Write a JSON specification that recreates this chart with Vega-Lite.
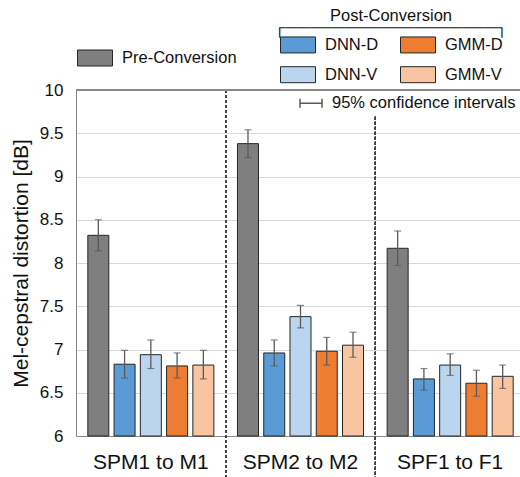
{
  "$schema": "https://vega.github.io/schema/vega-lite/v6.json",
  "width": 444,
  "height": 346,
  "autosize": {"type": "none"},
  "padding": {"left": 76, "top": 90, "right": 0, "bottom": 41},
  "config": {
    "view": {"stroke": null},
    "font": "Liberation Sans",
    "legend": {"padding": 0, "labelFont": "Liberation Sans", "titleFont": "Liberation Sans", "labelLimit": 400, "titleLimit": 600}
  },
  "data": {
    "values": [
      {"group": "SPM1 to M1", "series": "Pre-Conversion", "value": 8.32, "lo": 8.14, "hi": 8.50},
      {"group": "SPM1 to M1", "series": "DNN-D", "value": 6.83, "lo": 6.67, "hi": 6.99},
      {"group": "SPM1 to M1", "series": "DNN-V", "value": 6.94, "lo": 6.78, "hi": 7.11},
      {"group": "SPM1 to M1", "series": "GMM-D", "value": 6.81, "lo": 6.67, "hi": 6.96},
      {"group": "SPM1 to M1", "series": "GMM-V", "value": 6.82, "lo": 6.66, "hi": 6.99},
      {"group": "SPM2 to M2", "series": "Pre-Conversion", "value": 9.38, "lo": 9.22, "hi": 9.54},
      {"group": "SPM2 to M2", "series": "DNN-D", "value": 6.96, "lo": 6.81, "hi": 7.11},
      {"group": "SPM2 to M2", "series": "DNN-V", "value": 7.38, "lo": 7.25, "hi": 7.51},
      {"group": "SPM2 to M2", "series": "GMM-D", "value": 6.98, "lo": 6.82, "hi": 7.14},
      {"group": "SPM2 to M2", "series": "GMM-V", "value": 7.05, "lo": 6.91, "hi": 7.20},
      {"group": "SPF1 to F1", "series": "Pre-Conversion", "value": 8.17, "lo": 7.97, "hi": 8.37},
      {"group": "SPF1 to F1", "series": "DNN-D", "value": 6.66, "lo": 6.53, "hi": 6.78},
      {"group": "SPF1 to F1", "series": "DNN-V", "value": 6.82, "lo": 6.70, "hi": 6.95},
      {"group": "SPF1 to F1", "series": "GMM-D", "value": 6.61, "lo": 6.46, "hi": 6.76},
      {"group": "SPF1 to F1", "series": "GMM-V", "value": 6.69, "lo": 6.55, "hi": 6.82}
    ]
  },
  "resolve": {"scale": {"fill": "independent"}, "legend": {"fill": "independent"}},
  "layer": [
    {
      "transform": [{"filter": "datum.series === 'Pre-Conversion'"}],
      "mark": {"type": "bar", "stroke": "#262626", "strokeWidth": 1},
      "encoding": {
        "x": {
          "field": "group", "type": "nominal",
          "scale": {"domain": ["SPM1 to M1", "SPM2 to M2", "SPF1 to F1"], "range": [0, 449], "paddingInner": 0, "paddingOuter": 0},
          "axis": {"title": null, "domain": true, "domainColor": "#898989", "domainWidth": 1, "ticks": false, "labelAngle": 0, "labelFontSize": 21, "labelPadding": 15, "labelColor": "#111111", "grid": false}
        },
        "xOffset": {
          "field": "series", "type": "nominal",
          "scale": {"domain": ["Pre-Conversion", "DNN-D", "DNN-V", "GMM-D", "GMM-V"], "paddingInner": 0.2, "paddingOuter": 0.45}
        },
        "y": {
          "field": "value", "type": "quantitative",
          "scale": {"domain": [6, 10], "zero": false, "nice": false},
          "axis": {"title": "Mel-cepstral distortion [dB]", "values": [6, 6.5, 7, 7.5, 8, 8.5, 9, 9.5, 10], "format": "~g", "grid": true, "gridColor": "#d9d9d9", "gridWidth": 1, "domain": true, "domainColor": "#898989", "ticks": false, "labelPadding": 13, "labelFontSize": 17, "labelColor": "#111111", "titleFontSize": 21, "titleFontWeight": "normal", "titleColor": "#111111", "titlePadding": 8}
        },
        "y2": {"datum": 6},
        "fill": {
          "field": "series", "type": "nominal",
          "scale": {"domain": ["Pre-Conversion"], "range": ["#7f7f7f"]},
          "legend": {"title": null, "orient": "none", "legendX": 1, "legendY": -40.5, "symbolType": "M-1,-1H3.375V1H-1Z", "symbolSize": 256, "symbolStrokeColor": "#262626", "symbolStrokeWidth": 1, "labelOffset": 28, "labelFontSize": 16.5, "labelColor": "#111111"}
        }
      }
    },
    {
      "transform": [{"filter": "datum.series !== 'Pre-Conversion'"}],
      "mark": {"type": "bar", "stroke": "#262626", "strokeWidth": 1},
      "encoding": {
        "x": {"field": "group", "type": "nominal"},
        "xOffset": {"field": "series", "type": "nominal"},
        "y": {"field": "value", "type": "quantitative"},
        "y2": {"datum": 6},
        "fill": {
          "field": "series", "type": "nominal",
          "sort": ["DNN-D", "DNN-V", "GMM-D", "GMM-V"],
          "scale": {"domain": ["DNN-D", "DNN-V", "GMM-D", "GMM-V"], "range": ["#5b9bd5", "#bcd5ee", "#ed7d31", "#f8c5a0"]},
          "legend": {"title": ["Post-Conversion", "┌──────────────────┐"], "orient": "none", "legendX": 198, "legendY": -82.3, "columns": 2, "columnPadding": 19, "rowPadding": 9, "titleAnchor": "middle", "titleAlign": "center", "titleFontSize": 16.5, "titleFontWeight": "normal", "titleColor": "#111111", "titleLineHeight": 12, "titlePadding": 0, "symbolType": "M-1,-1H3.375V1H-1Z", "symbolSize": 256, "symbolStrokeColor": "#262626", "symbolStrokeWidth": 1, "labelOffset": 28, "labelFontSize": 16.5, "labelColor": "#111111"}
        }
      }
    },
    {
      "mark": {"type": "rule", "strokeWidth": 1.3},
      "encoding": {
        "x": {"field": "group", "type": "nominal"},
        "xOffset": {"field": "series", "type": "nominal"},
        "y": {"field": "lo", "type": "quantitative"},
        "y2": {"field": "hi"},
        "stroke": {
          "datum": "95% confidence intervals", "type": "nominal",
          "scale": {"range": ["#595959"]},
          "legend": {"title": null, "orient": "none", "legendX": 223, "legendY": 1.25, "symbolType": "M-1,0H1M-1,-0.4V0.4M1,-0.4V0.4", "symbolSize": 484, "symbolStrokeWidth": 1.5, "symbolFillColor": "transparent", "labelOffset": 9, "labelFontSize": 16.5, "labelColor": "#111111"}
        }
      }
    },
    {
      "mark": {"type": "tick", "color": "#595959", "size": 7, "thickness": 1.2},
      "encoding": {
        "x": {"field": "group", "type": "nominal"},
        "xOffset": {"field": "series", "type": "nominal"},
        "y": {"field": "hi", "type": "quantitative"}
      }
    },
    {
      "mark": {"type": "tick", "color": "#595959", "size": 7, "thickness": 1.2},
      "encoding": {
        "x": {"field": "group", "type": "nominal"},
        "xOffset": {"field": "series", "type": "nominal"},
        "y": {"field": "lo", "type": "quantitative"}
      }
    },
    {
      "mark": {"type": "rule", "color": "#404040", "strokeWidth": 1, "strokeDash": [3, 2]},
      "encoding": {
        "x": {"datum": "SPM2 to M2", "type": "nominal", "bandPosition": 0},
        "y": {"datum": 10, "type": "quantitative"},
        "y2": {"datum": 5.5}
      }
    },
    {
      "mark": {"type": "rule", "color": "#404040", "strokeWidth": 1, "strokeDash": [3, 2]},
      "encoding": {
        "x": {"datum": "SPF1 to F1", "type": "nominal", "bandPosition": 0},
        "y": {"datum": 9.69, "type": "quantitative"},
        "y2": {"datum": 5.5}
      }
    },
    {
      "mark": {"type": "rule", "color": "#898989", "strokeWidth": 1},
      "encoding": {
        "y": {"datum": 10, "type": "quantitative"}
      }
    }
  ]
}
